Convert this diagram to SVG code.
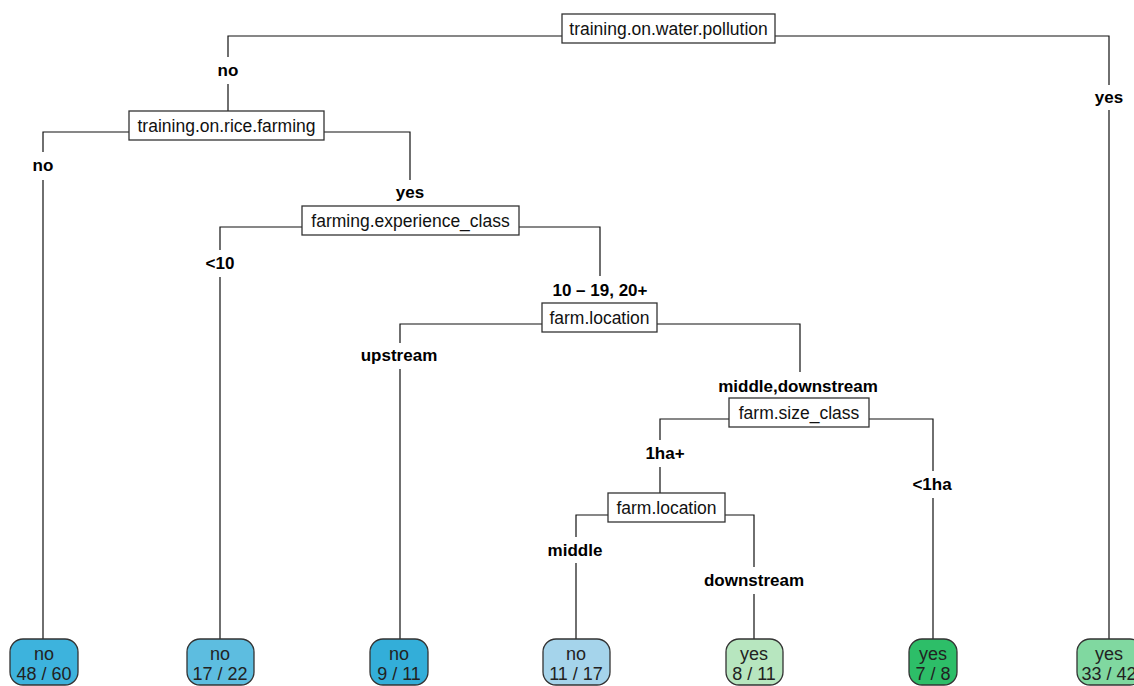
<svg xmlns="http://www.w3.org/2000/svg" width="1134" height="686" viewBox="0 0 1134 686">
<style>
.e{fill:none;stroke:#111;stroke-width:1.2}
.box{fill:#fff;stroke:#333;stroke-width:1.3}
.bt{font-family:"Liberation Sans",Arial,sans-serif;font-size:17.5px;fill:#111;text-anchor:middle}
.lb{font-family:"Liberation Sans",Arial,sans-serif;font-size:17px;font-weight:bold;fill:#000;text-anchor:middle}
.leaf{stroke:#333;stroke-width:1.3}
.lt{font-family:"Liberation Sans",Arial,sans-serif;font-size:18px;fill:#222;text-anchor:middle}
</style>
<rect width="1134" height="686" fill="#fff"/>
<g id="connectors">
<path class="e" d="M562 36H228V57M228 84V111"/>
<path class="e" d="M775 36H1109V85M1109 110V639"/>
<path class="e" d="M129 132H43V152M43 180V639"/>
<path class="e" d="M324 132H410V180"/>
<path class="e" d="M302 227H220V250M220 277V639"/>
<path class="e" d="M519 227H600V276"/>
<path class="e" d="M542 324H400V343M400 369V639"/>
<path class="e" d="M657 324H800V372"/>
<path class="e" d="M729 419H660V440M660 467V493"/>
<path class="e" d="M869 419H933V471M933 498V639"/>
<path class="e" d="M608 515H576V537M576 563V639"/>
<path class="e" d="M725 515H754V567M754 594V639"/>
</g>
<g id="edge-labels">
<text class="lb" x="228" y="76">no</text>
<text class="lb" x="1109" y="103">yes</text>
<text class="lb" x="43" y="171">no</text>
<text class="lb" x="410" y="198">yes</text>
<text class="lb" x="220" y="269">&lt;10</text>
<text class="lb" x="600" y="296">10 – 19, 20+</text>
<text class="lb" x="399" y="361">upstream</text>
<text class="lb" x="798" y="392">middle,downstream</text>
<text class="lb" x="665" y="459">1ha+</text>
<text class="lb" x="932" y="490">&lt;1ha</text>
<text class="lb" x="575" y="556">middle</text>
<text class="lb" x="754" y="586">downstream</text>
</g>
<g id="n1"><rect class="box" x="562" y="14" width="213" height="29"/><text class="bt" x="668.5" y="35">training.on.water.pollution</text></g>
<g id="n2"><rect class="box" x="129" y="111" width="195" height="29"/><text class="bt" x="226.5" y="132">training.on.rice.farming</text></g>
<g id="n3"><rect class="box" x="302" y="206" width="217" height="29"/><text class="bt" x="410.5" y="227">farming.experience_class</text></g>
<g id="n4"><rect class="box" x="542" y="303" width="115" height="29"/><text class="bt" x="599.5" y="324">farm.location</text></g>
<g id="n5"><rect class="box" x="729" y="398" width="140" height="29"/><text class="bt" x="799" y="419">farm.size_class</text></g>
<g id="n6"><rect class="box" x="608" y="493" width="117" height="29"/><text class="bt" x="666.5" y="514">farm.location</text></g>
<g id="leaf1"><rect class="leaf" x="10" y="639" width="68" height="46" rx="13" fill="#3DB3DD"/><text class="lt" x="44" y="660">no</text><text class="lt" x="44" y="680">48 / 60</text></g>
<g id="leaf2"><rect class="leaf" x="187" y="639" width="67" height="46" rx="13" fill="#5DBDE0"/><text class="lt" x="220" y="660">no</text><text class="lt" x="220" y="680">17 / 22</text></g>
<g id="leaf3"><rect class="leaf" x="370" y="639" width="58" height="46" rx="13" fill="#33AED9"/><text class="lt" x="399" y="660">no</text><text class="lt" x="399" y="680">9 / 11</text></g>
<g id="leaf4"><rect class="leaf" x="543" y="639" width="67" height="46" rx="13" fill="#A5D4EB"/><text class="lt" x="576" y="660">no</text><text class="lt" x="576" y="680">11 / 17</text></g>
<g id="leaf5"><rect class="leaf" x="726" y="639" width="57" height="46" rx="13" fill="#B7E6BF"/><text class="lt" x="754" y="660">yes</text><text class="lt" x="754" y="680">8 / 11</text></g>
<g id="leaf6"><rect class="leaf" x="909" y="639" width="48" height="46" rx="13" fill="#2DBE68"/><text class="lt" x="933" y="660">yes</text><text class="lt" x="933" y="680">7 / 8</text></g>
<g id="leaf7"><rect class="leaf" x="1077" y="639" width="66" height="46" rx="13" fill="#80D8A0"/><text class="lt" x="1109" y="660">yes</text><text class="lt" x="1109" y="680">33 / 42</text></g>
</svg>
